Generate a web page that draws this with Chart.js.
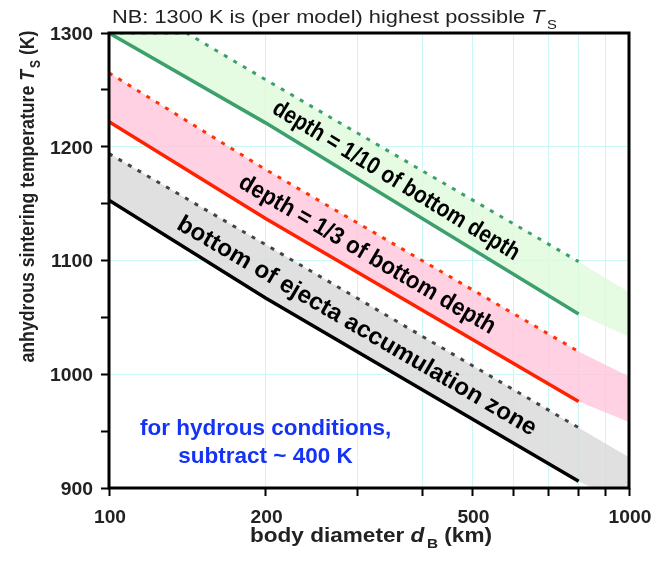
<!DOCTYPE html>
<html>
<head>
<meta charset="utf-8">
<script src="https://cdn.jsdelivr.net/npm/chart.js@4.4.0/dist/chart.umd.min.js"></script>
<style>
  body { margin: 0; background: #fff; }
  #wrap { width: 667px; height: 561px; }
</style>
</head>
<body>
<div id="wrap"><canvas id="tsChart" width="667" height="561"></canvas></div>
<script>
// body diameter (km) where the curves were read
const dLine = [100, 200, 800];
const tGreen = [1300, 1221, 1053];   // depth = 1/10 of bottom depth
const tRed = [1222, 1137, 976];      // depth = 1/3 of bottom depth
const tBlack = [1153, 1067, 906];    // bottom of ejecta accumulation zone

// dotted upper curves
const dGreenDash = [100, 141, 200, 800];
const tGreenDash = [1300, 1300, 1259, 1099];
const dDash = [100, 200, 800];
const tRedDash = [1265, 1180, 1020];
const tBlackDash = [1194, 1114, 953];

// shaded bands continue to 1000 km: [top, bottom]
const dBandEnd = 1000;
const greenBandEnd = [1072, 1033];
const redBandEnd = [998, 958];
const grayBandEnd = [927, 885];

// axes
const xGrid = [100, 200, 300, 400, 500, 600, 700, 800, 900, 1000];
const xTickLabels = [100, 200, 500, 1000];
const yTickLabels = [900, 1000, 1100, 1200, 1300];
const yMin = 900, yMax = 1300, yStep = 50, yLabelStep = 100;

const FONT = '"Liberation Sans", Arial, sans-serif';

function pts(ds, ts) {
    return ds.map((d, i) => ({x: d, y: ts[i]}));
}

function line(data, color, dashed) {
    return {
        data: data,
        borderColor: color,
        borderWidth: dashed ? 3 : 3.5,
        borderDash: dashed ? [4, 7] : [],
        pointRadius: 0,
        fill: false,
        tension: 0
    };
}

function band(data, fillColor) {
    return {
        data: data,
        borderColor: 'rgba(0,0,0,0)',
        borderWidth: 1,
        pointRadius: 0,
        backgroundColor: fillColor,
        fill: fillColor ? '-1' : false,
        tension: 0
    };
}

// text drawn on the canvas, segments may be italic or subscript
function drawRich(ctx, segs, x, y, o) {
    const size = o.size;
    const fontOf = s => (s.i ? 'italic ' : '') + (o.weight || 'bold') + ' ' + (s.sub ? size * 0.68 : size) + 'px ' + FONT;
    let total = 0;
    segs.forEach(s => {
        ctx.font = fontOf(s);
        s.gap = s.sub ? size * 0.12 : 0;
        s.w = ctx.measureText(s.t).width + s.gap;
        total += s.w;
    });
    let sx = o.sx || 1;
    if (o.width) sx = o.width / total;
    ctx.save();
    ctx.translate(x, y);
    ctx.rotate(o.rot || 0);
    ctx.scale(sx, 1);
    ctx.fillStyle = o.color || '#000';
    ctx.textBaseline = 'alphabetic';
    ctx.textAlign = 'left';
    let cx = o.align === 'center' ? -total / 2 : (o.align === 'right' ? -total : 0);
    segs.forEach(s => {
        ctx.font = fontOf(s);
        ctx.fillText(s.t, cx + s.gap, s.sub ? size * 0.3 : 0);
        cx += s.w;
    });
    ctx.restore();
}

// labels along the curves, anchored in data units (baseline centre)
const curveNotes = [
    {text: 'depth = 1/10 of bottom depth', d: 351, t: 1165, len: 285, curve: tGreen},
    {text: 'depth = 1/3 of bottom depth', d: 309, t: 1100, len: 293, curve: tRed},
    {text: 'bottom of ejecta accumulation zone', d: 295, t: 1037, len: 412, curve: tBlack}
];
const hydrousNote = {lines: ['for hydrous conditions,', 'subtract ~ 400 K'], d: 200, t: 947};

const textPlugin = {
    id: 'texts',
    afterDatasetsDraw(chart) {
        const ctx = chart.ctx, a = chart.chartArea;
        const xs = chart.scales.x, ys = chart.scales.y;

        // frame
        ctx.save();
        ctx.strokeStyle = '#000';
        ctx.lineWidth = 3;
        ctx.strokeRect(a.left, a.top, a.right - a.left, a.bottom - a.top);
        ctx.restore();

        // curve labels
        curveNotes.forEach(n => {
            const dx = xs.getPixelForValue(dLine[2]) - xs.getPixelForValue(dLine[1]);
            const dy = ys.getPixelForValue(n.curve[2]) - ys.getPixelForValue(n.curve[1]);
            drawRich(ctx, [{t: n.text}], xs.getPixelForValue(n.d), ys.getPixelForValue(n.t),
                {size: 24, align: 'center', rot: Math.atan2(dy, dx), width: n.len});
        });

        // hydrous note
        hydrousNote.lines.forEach((s, i) => {
            drawRich(ctx, [{t: s}], xs.getPixelForValue(hydrousNote.d), ys.getPixelForValue(hydrousNote.t) + i * 28,
                {size: 22.5, align: 'center', color: '#1433f5'});
        });

        // tick labels
        xTickLabels.forEach(v => {
            drawRich(ctx, [{t: String(v)}], xs.getPixelForValue(v) + 1, a.bottom + 35,
                {size: 17.5, align: 'center', sx: 1.1, color: '#222'});
        });
        yTickLabels.forEach(v => {
            drawRich(ctx, [{t: String(v)}], 93, ys.getPixelForValue(v) + 6.8,
                {size: 19, align: 'right', sx: 1.02, color: '#222'});
        });

        // axis titles
        drawRich(ctx, [{t: 'body diameter '}, {t: 'd', i: 1}, {t: 'B', sub: 1}, {t: ' (km)'}],
            (a.left + a.right) / 2 + 2, a.bottom + 54, {size: 20, align: 'center', width: 242, color: '#222'});
        drawRich(ctx, [{t: 'anhydrous sintering temperature '}, {t: 'T', i: 1}, {t: 'S', sub: 1}, {t: ' (K)'}],
            34, (a.top + a.bottom) / 2 - 64, {size: 21, align: 'center', rot: -Math.PI / 2, width: 332, color: '#222'});

        // note above the plot
        drawRich(ctx, [{t: 'NB: 1300 K is (per model) highest possible '}, {t: 'T', i: 1}, {t: 'S', sub: 1}],
            a.left + 3, 23, {size: 18.5, weight: 'normal', align: 'left', width: 445, color: '#222'});
    }
};

const datasets = [
    line(pts(dLine, tGreen), '#3c9f6c', false),
    line(pts(dLine, tRed), '#ff2200', false),
    line(pts(dLine, tBlack), '#000000', false),
    line(pts(dGreenDash, tGreenDash), '#3c9f6c', true),
    line(pts(dDash, tRedDash), '#ff3300', true),
    line(pts(dDash, tBlackDash), '#444444', true),
    band(pts(dGreenDash.concat([dBandEnd]), tGreenDash.concat([greenBandEnd[0]])), null),
    band(pts(dLine.concat([dBandEnd]), tGreen.concat([greenBandEnd[1]])), 'rgba(220,250,216,0.75)'),
    band(pts(dDash.concat([dBandEnd]), tRedDash.concat([redBandEnd[0]])), null),
    band(pts(dLine.concat([dBandEnd]), tRed.concat([redBandEnd[1]])), 'rgba(255,198,220,0.8)'),
    band(pts(dDash.concat([dBandEnd]), tBlackDash.concat([grayBandEnd[0]])), null),
    band(pts(dLine.concat([dBandEnd]), tBlack.concat([grayBandEnd[1]])), 'rgba(216,216,216,0.8)')
];

new Chart('tsChart', {
    type: 'line',
    data: {datasets: datasets},
    plugins: [textPlugin],
    options: {
        responsive: false,
        animation: false,
        layout: {padding: {top: 33, right: 38, left: 0, bottom: 0}},
        plugins: {legend: {display: false}, tooltip: {enabled: false}},
        scales: {
            x: {
                type: 'logarithmic',
                min: 100,
                max: 1000,
                afterBuildTicks: s => { s.ticks = xGrid.map(v => ({value: v})); },
                afterFit: s => { s.height = 73; },
                ticks: {display: false},
                border: {display: false},
                grid: {
                    color: c => (c.tick && (c.tick.value === 100 || c.tick.value === 1000)) ? 'rgba(0,0,0,0)' : '#cdf6f6',
                    lineWidth: 1,
                    drawTicks: true,
                    tickLength: 8,
                    tickWidth: 2,
                    tickColor: '#000'
                }
            },
            y: {
                min: yMin,
                max: yMax,
                afterFit: s => { s.width = 109; },
                ticks: {display: false, stepSize: yStep},
                border: {display: false},
                grid: {
                    color: c => (c.tick && c.tick.value % yLabelStep === 0 && c.tick.value !== yMin && c.tick.value !== yMax) ? '#cdf6f6' : 'rgba(0,0,0,0)',
                    lineWidth: 1,
                    drawTicks: true,
                    tickLength: 8,
                    tickWidth: 2,
                    tickColor: '#000'
                }
            }
        }
    }
});
</script>
</body>
</html>
